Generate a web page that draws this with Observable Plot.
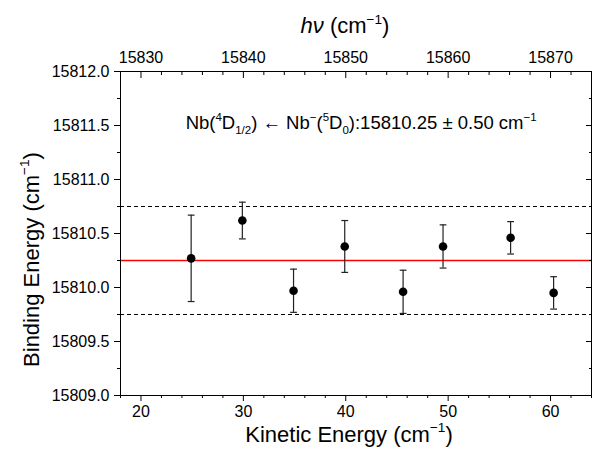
<!DOCTYPE html>
<html>
<head>
<meta charset="utf-8">
<script src="https://cdn.jsdelivr.net/npm/d3@7"></script>
<script src="https://cdn.jsdelivr.net/npm/@observablehq/plot@0.6"></script>
<style>
  html, body { margin: 0; padding: 0; background: #fff; }
</style>
</head>
<body>
<div id="chart"></div>
<script>
// ---- data ----
const kineticEnergy = [24.9, 29.9, 34.9, 39.9, 45.6, 49.5, 56.1, 60.3];
const bindingEnergy = [15810.27, 15810.62, 15809.97, 15810.38, 15809.96, 15810.38, 15810.46, 15809.95];
const bindingError  = [0.40, 0.17, 0.20, 0.24, 0.20, 0.20, 0.15, 0.15];
const meanValue = 15810.25;
const meanError = 0.50;

// ---- ticks ----
const keTicks = [20, 30, 40, 50, 60];
const keMinor = d3.range(18, 65, 2).filter(v => v % 10 !== 0);
const beTicks = [15809.0, 15809.5, 15810.0, 15810.5, 15811.0, 15811.5, 15812.0];
const beMinor = [15809.25, 15809.75, 15810.25, 15810.75, 15811.25, 15811.75];
const hvTicks = [15830, 15840, 15850, 15860, 15870];
const hvOffset = 15810;

// ---- texts (rich parts: [text, mode]) ----
const xTitleParts = [["Kinetic Energy (cm", ""], ["\u22121", "sup"], [")", ""]];
const yTitleParts = [["Binding Energy (cm", ""], ["\u22121", "sup"], [")", ""]];
const topTitleParts = [["h\u03BD", "it"], [" (cm", ""], ["\u22121", "sup"], [")", ""]];
const annParts = [["Nb(", ""], ["4", "sup"], ["D", ""], ["1/2", "sub"], [") \u2190 Nb", ""], ["\u2212", "sup"], ["(", ""], ["5", "sup"], ["D", ""], ["0", "sub"], ["):15810.25 \u00B1 0.50 cm", ""], ["\u22121", "sup"]];
const plain = parts => parts.map(p => p[0]).join("");

const points = kineticEnergy.map((x, i) => ({ke: x, be: bindingEnergy[i], err: bindingError[i]}));

const capSymbol = {
  draw(context, size) {
    const r = Math.sqrt(size / Math.PI);
    context.moveTo(-r, 0);
    context.lineTo(r, 0);
  }
};

const font = "'Liberation Sans', Arial, Helvetica, sans-serif";

const svg = Plot.plot({
  width: 601,
  height: 455,
  marginLeft: 120,
  marginRight: 10,
  marginTop: 71,
  marginBottom: 60,
  style: {fontFamily: font, fontSize: "16px", background: "white", color: "black"},
  x: {domain: [18, 64]},
  y: {domain: [15809, 15812]},
  marks: [
    // reference lines
    Plot.ruleY([meanValue + meanError, meanValue - meanError], {stroke: "black", strokeWidth: 1, strokeDasharray: "4,3"}),
    Plot.ruleY([meanValue], {stroke: "#ff0000", strokeWidth: 1.6}),
    // error bars
    Plot.ruleX(points, {x: "ke", y1: d => d.be - d.err, y2: d => d.be + d.err, stroke: "#222", strokeWidth: 1.2}),
    Plot.dot(points, {x: "ke", y: d => d.be + d.err, symbol: capSymbol, r: 3.4, stroke: "#222", strokeWidth: 1.2, fill: "none"}),
    Plot.dot(points, {x: "ke", y: d => d.be - d.err, symbol: capSymbol, r: 3.4, stroke: "#222", strokeWidth: 1.2, fill: "none"}),
    Plot.dot(points, {x: "ke", y: "be", r: 4.3, fill: "black", stroke: "none"}),
    // bottom axis
    Plot.axisX({anchor: "bottom", ticks: keTicks, tickSize: 6, tickPadding: 4, fontSize: 16, label: null}),
    Plot.axisX({anchor: "bottom", ticks: keMinor, tickSize: 3, fill: "none", label: null}),
    // top axis (h nu = KE + offset)
    Plot.axisX({anchor: "top", ticks: hvTicks.map(h => h - hvOffset), tickSize: 0, tickPadding: 9, fontSize: 16, tickFormat: d => String(Math.round(d + hvOffset)), label: null}),
    Plot.axisX({anchor: "top", ticks: hvTicks.map(h => h - hvOffset), tickSize: 6, dy: 6, fill: "none", label: null}),
    Plot.axisX({anchor: "top", ticks: keMinor, tickSize: 3, dy: 3, fill: "none", label: null}),
    // left axis
    Plot.axisY({anchor: "left", ticks: beTicks, tickSize: 6, tickPadding: 5, fontSize: 16, tickFormat: d3.format(".1f"), label: null}),
    Plot.axisY({anchor: "left", ticks: beMinor, tickSize: 3, fill: "none", label: null}),
    // right axis (inward)
    Plot.axisY({anchor: "right", ticks: beTicks, tickSize: 6, dx: -6, fill: "none", label: null}),
    Plot.axisY({anchor: "right", ticks: beMinor, tickSize: 3, dx: -3, fill: "none", label: null}),
    Plot.frame({stroke: "black", strokeWidth: 1}),
    // titles
    Plot.text([plain(xTitleParts)], {frameAnchor: "bottom", textAnchor: "middle", dx: -7, dy: 46, fontSize: 22, text: d => d}),
    Plot.text([plain(topTitleParts)], {frameAnchor: "top", textAnchor: "middle", dx: -11, dy: -54, fontSize: 22, text: d => d}),
    Plot.text([plain(yTitleParts)], {frameAnchor: "left", textAnchor: "middle", dx: -89, dy: 26, rotate: -90, fontSize: 22, text: d => d}),
    // annotation
    Plot.text([plain(annParts)], {x: () => 41.5, y: () => 15811.52, fontSize: 18.5, text: d => d})
  ]
});

function rich(root, parts) {
  const target = plain(parts);
  d3.select(root).selectAll("text").filter(function() { return this.textContent === target; }).each(function() {
    const t = d3.select(this);
    const fs = parseFloat(getComputedStyle(this).fontSize) || 16;
    t.text(null);
    let cur = 0;
    for (const [txt, mode] of parts) {
      const off = mode === "sup" ? -0.42 * fs : mode === "sub" ? 0.24 * fs : 0;
      const ts = t.append("tspan").text(txt);
      if (off - cur !== 0) ts.attr("dy", (off - cur) + "px");
      cur = off;
      if (mode === "sup" || mode === "sub") ts.attr("font-size", (0.62 * fs) + "px");
      if (mode === "it") ts.attr("font-style", "italic");
    }
  });
}

document.getElementById("chart").appendChild(svg);
rich(svg, xTitleParts);
rich(svg, yTitleParts);
rich(svg, topTitleParts);
rich(svg, annParts);
</script>
</body>
</html>
